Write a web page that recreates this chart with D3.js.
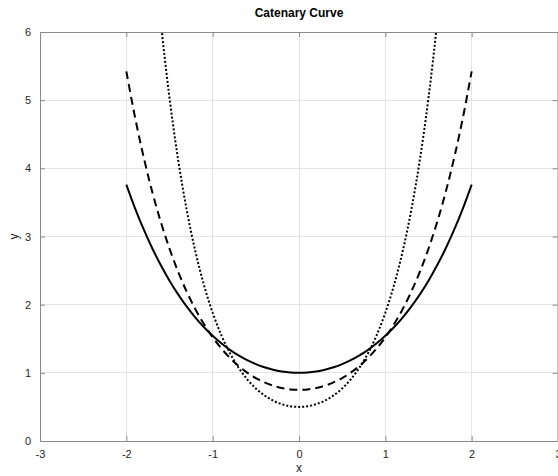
<!DOCTYPE html>
<html>
<head>
<meta charset="utf-8">
<script src="https://cdn.jsdelivr.net/npm/d3@7"></script>
<style>
  html, body { margin: 0; padding: 0; background: #fff; }
  svg { display: block; font-family: "Liberation Sans", Arial, Helvetica, sans-serif; }
</style>
</head>
<body>
<svg id="chart" width="558" height="476"></svg>
<script>
// ---- data ----
const xValues = [-2.0,-1.9,-1.8,-1.7,-1.6,-1.5,-1.4,-1.3,-1.2,-1.1,-1.0,-0.9,-0.8,-0.7,-0.6,-0.5,-0.4,-0.3,-0.2,-0.1,
                 0.0,0.1,0.2,0.3,0.4,0.5,0.6,0.7,0.8,0.9,1.0,1.1,1.2,1.3,1.4,1.5,1.6,1.7,1.8,1.9,2.0];
const seriesA1 = [3.7622,3.4177,3.1075,2.8283,2.5775,2.3524,2.1509,1.9709,1.8107,1.6685,1.5431,1.4331,1.3374,1.2552,1.1855,1.1276,1.0811,1.0453,1.0201,1.0050,
                  1.0000,1.0050,1.0201,1.0453,1.0811,1.1276,1.1855,1.2552,1.3374,1.4331,1.5431,1.6685,1.8107,1.9709,2.1509,2.3524,2.5775,2.8283,3.1075,3.4177,3.7622];
const seriesA075 = [5.4230,4.7531,4.1677,3.6562,3.2102,2.8217,2.4829,2.1885,1.9331,1.7120,1.5215,1.3580,1.2187,1.1011,1.0031,0.9229,0.8594,0.8108,0.7768,0.7567,
                    0.7500,0.7567,0.7768,0.8108,0.8594,0.9229,1.0031,1.1011,1.2187,1.3580,1.5215,1.7120,1.9331,2.1885,2.4829,2.8217,3.2102,3.6562,4.1677,4.7531,5.4230];
const seriesA05 = [13.654,11.170,9.1564,7.4993,6.1433,5.0338,4.1264,3.3845,2.7785,2.2840,1.8811,1.5537,1.2887,1.0754,0.9053,0.7715,0.6687,0.5927,0.5405,0.5100,
                   0.5000,0.5100,0.5405,0.5927,0.6687,0.7715,0.9053,1.0754,1.2887,1.5537,1.8811,2.2840,2.7785,3.3845,4.1264,5.0338,6.1433,7.4993,9.1564,11.170,13.654];
const xTicks = [-3,-2,-1,0,1,2,3];
const yTicks = [0,1,2,3,4,5,6];
const titleText = "Catenary Curve";
const xLabel = "x";
const yLabel = "y";

// ---- layout ----
const svg = d3.select("#chart");
const L = 40, R = 558, T = 32, B = 441;
const x = d3.scaleLinear().domain([-3, 3]).range([L, R]);
const y = d3.scaleLinear().domain([0, 6]).range([B, T]);
const axisColor = "#8a8a8a";
const textColor = "#262626";
const fmt = d => String(d);

// grid
const grid = svg.append("g");
grid.selectAll(".gx").data(xTicks).join("line")
  .attr("x1", d => x(d)).attr("x2", d => x(d)).attr("y1", T).attr("y2", B)
  .attr("stroke", "#e5e5e5").attr("stroke-width", 1).attr("shape-rendering", "crispEdges");
grid.selectAll(".gy").data(yTicks).join("line")
  .attr("x1", L).attr("x2", R).attr("y1", d => y(d)).attr("y2", d => y(d))
  .attr("stroke", "#e5e5e5").attr("stroke-width", 1).attr("shape-rendering", "crispEdges");

// curves
svg.append("defs").append("clipPath").attr("id", "clip")
  .append("rect").attr("x", L).attr("y", T).attr("width", R - L).attr("height", B - T);
const line = d3.line().x((d, i) => x(xValues[i])).y(d => y(d)).curve(d3.curveCatmullRom.alpha(0.5));
const curves = svg.append("g").attr("clip-path", "url(#clip)");
const series = [
  { v: seriesA1, dash: null },
  { v: seriesA075, dash: "8,5" },
  { v: seriesA05, dash: "2,2" }
];
series.forEach(s => {
  curves.append("path").attr("d", line(s.v))
    .attr("fill", "none").attr("stroke", "#000").attr("stroke-width", 2)
    .attr("stroke-dasharray", s.dash);
});

// axes box
const axBottom = d3.axisBottom(x).tickValues(xTicks).tickFormat(fmt).tickSizeInner(-5).tickSizeOuter(0).tickPadding(9);
const axTop = d3.axisTop(x).tickValues(xTicks).tickSizeInner(-5).tickSizeOuter(0).tickFormat("");
const axLeft = d3.axisLeft(y).tickValues(yTicks).tickFormat(fmt).tickSizeInner(-5).tickSizeOuter(0).tickPadding(9);
const axRight = d3.axisRight(y).tickValues(yTicks).tickSizeInner(-5).tickSizeOuter(0).tickFormat("");

function style(g) {
  g.selectAll("path").attr("stroke", axisColor).attr("stroke-width", 1);
  g.selectAll("line").attr("stroke", axisColor);
  g.selectAll("text").attr("fill", textColor).attr("font-size", 11)
    .attr("font-family", "Liberation Sans, Arial, Helvetica, sans-serif");
}
svg.append("g").attr("transform", `translate(0,${B})`).call(axBottom).call(style);
svg.append("g").attr("transform", `translate(0,${T})`).call(axTop).call(style);
svg.append("g").attr("transform", `translate(${L},0)`).call(axLeft).call(style);
svg.append("g").attr("transform", `translate(${R - 0.5},0)`).call(axRight).call(style);

// labels
svg.append("text").attr("x", (L + R) / 2).attr("y", 17).attr("text-anchor", "middle")
  .attr("font-size", 12).attr("font-weight", "bold").attr("fill", "#000").text(titleText);
svg.append("text").attr("x", x(0)).attr("y", 472).attr("text-anchor", "middle")
  .attr("font-size", 12).attr("fill", textColor).text(xLabel);
svg.append("text").attr("transform", `translate(18,${(T + B) / 2}) rotate(-90)`).attr("text-anchor", "middle")
  .attr("font-size", 12).attr("fill", textColor).text(yLabel);
</script>
</body>
</html>
